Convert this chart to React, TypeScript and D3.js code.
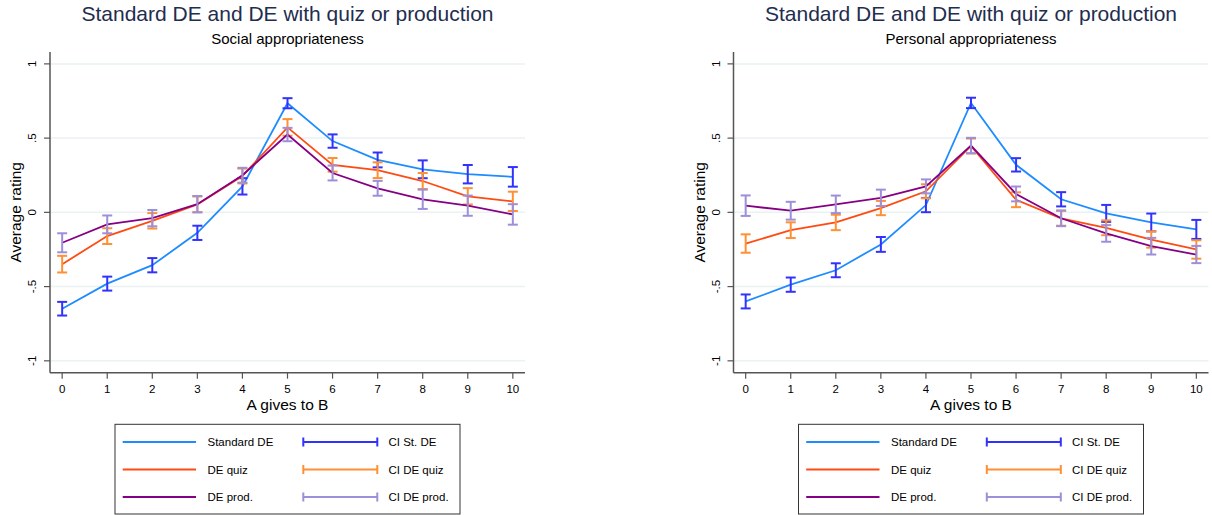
import React from "react";
import * as d3 from "d3";

// ---------- data ----------
const categories = [0, 1, 2, 3, 4, 5, 6, 7, 8, 9, 10];
const yTicks = [-1, -0.5, 0, 0.5, 1];
const yTickLabels = ["-1", "-.5", "0", ".5", "1"];

const stdSocial = [-0.649, -0.48, -0.356, -0.138, 0.175, 0.735, 0.48, 0.353, 0.29, 0.257, 0.239];
const stdSocialCI = [0.046, 0.047, 0.048, 0.048, 0.055, 0.034, 0.045, 0.05, 0.06, 0.062, 0.066];
const quizSocial = [-0.349, -0.16, -0.057, 0.054, 0.245, 0.572, 0.32, 0.284, 0.211, 0.108, 0.074];
const quizSocialCI = [0.056, 0.053, 0.052, 0.053, 0.05, 0.056, 0.046, 0.053, 0.054, 0.055, 0.065];
const prodSocial = [-0.205, -0.081, -0.039, 0.055, 0.25, 0.524, 0.265, 0.162, 0.088, 0.045, -0.014];
const prodSocialCI = [0.064, 0.06, 0.055, 0.055, 0.05, 0.045, 0.05, 0.05, 0.065, 0.068, 0.069];

const stdPersonal = [-0.6, -0.487, -0.39, -0.216, 0.049, 0.737, 0.32, 0.088, -0.007, -0.068, -0.115];
const stdPersonalCI = [0.047, 0.048, 0.047, 0.05, 0.048, 0.035, 0.045, 0.048, 0.057, 0.06, 0.064];
const quizPersonal = [-0.21, -0.12, -0.068, 0.029, 0.142, 0.447, 0.085, -0.04, -0.104, -0.183, -0.25];
const quizPersonalCI = [0.062, 0.053, 0.052, 0.048, 0.047, 0.05, 0.05, 0.05, 0.05, 0.055, 0.062];
const prodPersonal = [0.045, 0.011, 0.054, 0.098, 0.175, 0.45, 0.124, -0.04, -0.142, -0.228, -0.284];
const prodPersonalCI = [0.069, 0.06, 0.059, 0.055, 0.047, 0.052, 0.05, 0.053, 0.056, 0.056, 0.058];

const seriesNames = ["Standard DE", "DE quiz", "DE prod."];
const ciNames = ["CI St. DE", "CI DE quiz", "CI DE prod."];
const lineColors = ["#1E8CFF", "#FF4A12", "#850085"];
const ciColors = ["#3232FF", "#FF9033", "#9D8FDA"];

const FONT = "Arial, 'Liberation Sans', Helvetica, sans-serif";

type PanelProps = {
  ox: number;
  subtitle: string;
  values: number[][];
  cis: number[][];
};

function Panel({ ox, subtitle, values, cis }: PanelProps) {
  const left = ox + 50;
  const right = ox + 525;
  const top = 52;
  const bottom = 372.7;
  const x = d3.scaleLinear().domain([-0.27, 10.27]).range([left, right]);
  const y = d3.scaleLinear().domain([-1.08, 1.08]).range([bottom, top]);
  const cx = (left + right) / 2;
  const line = d3
    .line<number>()
    .x((_, i) => x(categories[i]))
    .y((d) => y(d));
  const cap = 5;

  const legL = ox + 115;
  const legR = ox + 460;
  const rowsY = [442, 469.5, 497];

  return (
    <g>
      <text x={cx} y={21} textAnchor="middle" fontSize={21} fill="#1f2d4f" fontFamily={FONT}>
        Standard DE and DE with quiz or production
      </text>
      <text x={cx} y={43.5} textAnchor="middle" fontSize={15} fill="#000" fontFamily={FONT}>
        {subtitle}
      </text>
      {/* grid */}
      {yTicks.map((t) => (
        <line key={"g" + t} x1={left} x2={right} y1={y(t)} y2={y(t)} stroke="#EAF2F3" strokeWidth={1.5} />
      ))}
      {/* axes */}
      <line x1={left} x2={left} y1={top} y2={bottom} stroke="#555" strokeWidth={1.5} />
      <line x1={left} x2={right} y1={bottom} y2={bottom} stroke="#555" strokeWidth={1.5} />
      {yTicks.map((t, i) => (
        <g key={"yt" + t}>
          <line x1={left - 6} x2={left} y1={y(t)} y2={y(t)} stroke="#555" strokeWidth={1.2} />
          <text
            transform={`translate(${ox + 36},${y(t)}) rotate(-90)`}
            textAnchor="middle"
            fontSize={11.5}
            fill="#000"
            fontFamily={FONT}
          >
            {yTickLabels[i]}
          </text>
        </g>
      ))}
      {categories.map((c) => (
        <g key={"xt" + c}>
          <line x1={x(c)} x2={x(c)} y1={bottom} y2={bottom + 6} stroke="#555" strokeWidth={1.2} />
          <text x={x(c)} y={392.5} textAnchor="middle" fontSize={11.5} fill="#000" fontFamily={FONT}>
            {c}
          </text>
        </g>
      ))}
      <text x={cx} y={410} textAnchor="middle" fontSize={15.5} fill="#000" fontFamily={FONT}>
        A gives to B
      </text>
      <text
        transform={`translate(${ox + 21},${(top + bottom) / 2}) rotate(-90)`}
        textAnchor="middle"
        fontSize={15.5}
        fill="#000"
        fontFamily={FONT}
      >
        Average rating
      </text>
      {/* series */}
      {values.map((vals, s) => (
        <g key={"s" + s}>
          <path d={line(vals) || ""} fill="none" stroke={lineColors[s]} strokeWidth={1.8} />
          {vals.map((v, i) => {
            const xx = x(categories[i]);
            const y1 = y(v + cis[s][i]);
            const y2 = y(v - cis[s][i]);
            return (
              <g key={"ci" + i} stroke={ciColors[s]} strokeWidth={2} fill="none">
                <line x1={xx} x2={xx} y1={y1} y2={y2} />
                <line x1={xx - cap} x2={xx + cap} y1={y1} y2={y1} />
                <line x1={xx - cap} x2={xx + cap} y1={y2} y2={y2} />
              </g>
            );
          })}
        </g>
      ))}
      {/* legend */}
      <rect x={legL} y={424.3} width={legR - legL} height={89.7} fill="#fff" stroke="#333" strokeWidth={1} />
      {seriesNames.map((n, i) => (
        <g key={"lg" + i}>
          <line x1={ox + 122.7} x2={ox + 196} y1={rowsY[i]} y2={rowsY[i]} stroke={lineColors[i]} strokeWidth={1.8} />
          <text x={ox + 207.5} y={rowsY[i] + 4} fontSize={11.5} fill="#000" fontFamily={FONT}>
            {n}
          </text>
          <g stroke={ciColors[i]} strokeWidth={2}>
            <line x1={ox + 303.3} x2={ox + 377.3} y1={rowsY[i]} y2={rowsY[i]} />
            <line x1={ox + 303.3} x2={ox + 303.3} y1={rowsY[i] - 4.5} y2={rowsY[i] + 4.5} />
            <line x1={ox + 377.3} x2={ox + 377.3} y1={rowsY[i] - 4.5} y2={rowsY[i] + 4.5} />
          </g>
          <text x={ox + 388.5} y={rowsY[i] + 4} fontSize={11.5} fill="#000" fontFamily={FONT}>
            {ciNames[i]}
          </text>
        </g>
      ))}
    </g>
  );
}

export default function App() {
  return (
    <svg
      width={1212}
      height={515}
      style={{ position: "absolute", left: 0, top: 0, background: "#fff" }}
    >
      <rect x={0} y={0} width={1212} height={515} fill="#fff" />
      <Panel
        ox={0}
        subtitle="Social appropriateness"
        values={[stdSocial, quizSocial, prodSocial]}
        cis={[stdSocialCI, quizSocialCI, prodSocialCI]}
      />
      <Panel
        ox={683.5}
        subtitle="Personal appropriateness"
        values={[stdPersonal, quizPersonal, prodPersonal]}
        cis={[stdPersonalCI, quizPersonalCI, prodPersonalCI]}
      />
    </svg>
  );
}
